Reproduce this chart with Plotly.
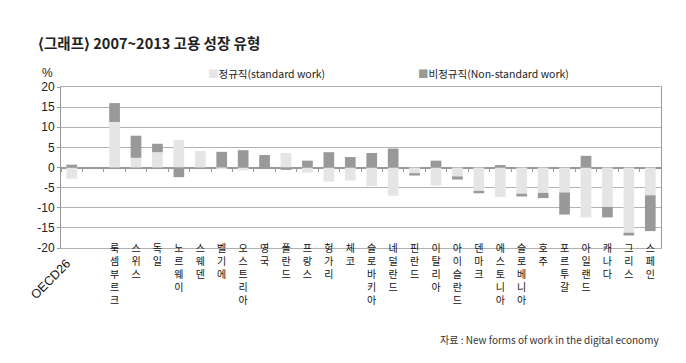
import plotly.graph_objects as go

categories = ["OECD26", " ", "룩셈부르크", "스위스", "독일", "노르웨이", "스웨덴", "벨기에",
              "오스트리아", "영국", "폴란드", "프랑스", "헝가리", "체코", "슬로바키아",
              "네덜란드", "핀란드", "이탈리아", "아이슬란드", "덴마크", "에스토니아",
              "슬로베니아", "호주", "포르투갈", "아일랜드", "캐나다", "그리스", "스페인"]
standard = [-2.8, None, 11.3, 2.4, 3.8, 6.8, 4.1, -0.2, -0.7, 0.0, 3.6, -1.3, -3.5, -3.2,
            -4.6, -7.0, -1.4, -4.5, -2.2, -5.8, -7.3, -6.5, -6.3, -6.2, -12.4, -9.8, -16.2, -6.9]
nonstandard = [0.7, None, 4.7, 5.5, 2.1, -2.4, 0.0, 3.9, 4.3, 3.1, -0.6, 1.7, 3.8, 2.6,
               3.6, 4.7, -0.6, 1.7, -0.8, -0.6, 0.6, -0.7, -1.3, -5.5, 2.9, -2.6, -0.7, -8.9]
y_ticks = [20, 15, 10, 5, 0, -5, -10, -15, -20]

LIGHT = "#e5e5e5"
DARK = "#999999"

def vert(label):
    if label == "OECD26":
        return ""
    return "<br>".join(list(label))

n = len(categories)
fig = go.Figure()
fig.add_trace(go.Bar(x=categories, y=standard, name="정규직(standard work)",
                     marker=dict(color=LIGHT, line=dict(width=0)), width=0.5))
fig.add_trace(go.Bar(x=categories, y=nonstandard, name="비정규직(Non-standard work)",
                     marker=dict(color=DARK, line=dict(width=0)), width=0.5))

fig.update_layout(
    barmode="relative",
    width=686, height=363,
    margin=dict(l=61, r=25, t=87, b=115),
    paper_bgcolor="white", plot_bgcolor="white",
    showlegend=False,
    font=dict(family="Liberation Sans, Arial, sans-serif", color="#222222", size=12),
    xaxis=dict(
        type="category", automargin=False, range=[-0.5, n - 0.5],
        tickmode="array", tickvals=categories, ticktext=[vert(c) for c in categories],
        tickfont=dict(family="Noto Sans CJK KR", size=10, color="#111111"),
        tickangle=0, ticklabelstandoff=-9,
        ticks="", showline=True, linecolor="#b0b0b0", linewidth=1, mirror=True,
        showgrid=False, zeroline=False,
    ),
    xaxis2=dict(
        type="category", overlaying="x", matches="x", anchor="free", position=0.5,
        side="bottom", showticklabels=False, ticks="outside", ticklen=3, tickwidth=1,
        tickcolor="#999999", tickson="boundaries", showline=False, showgrid=False,
        zeroline=False, automargin=False,
    ),
    yaxis=dict(
        range=[-20, 20], tickvals=y_ticks, ticktext=[str(v) for v in y_ticks],
        automargin=False,
        ticks="outside", ticklen=3, tickcolor="#999999",
        showline=True, linecolor="#999999", linewidth=1, mirror=True,
        showgrid=True, gridcolor="#b3b3b3", gridwidth=1,
        zeroline=True, zerolinecolor="#999999", zerolinewidth=2,
        tickfont=dict(size=12, color="#222222"),
    ),
)

# invisible trace that places the category ticks on the zero line
fig.add_trace(go.Scatter(x=categories, y=[0] * n, xaxis="x2", mode="none",
                         hoverinfo="skip", showlegend=False))

W, H = 686, 363
pl, pr, pt, pb = 61, 25, 87, 115
def px(x):
    return (x - pl) / (W - pl - pr)
def py(y):
    return (H - pb - y) / (H - pt - pb)

fig.add_annotation(x="OECD26", y=py(254), xref="x", yref="paper", text="OECD26",
                   textangle=-45, showarrow=False, xanchor="right", yanchor="top",
                   xshift=5, font=dict(family="Liberation Sans, Arial", size=12.5, color="#111111"))

fig.add_annotation(x=px(36), y=py(42), xref="paper", yref="paper",
                   text="⟨그래프⟩ 2007~2013 고용 성장 유형", showarrow=False,
                   xanchor="left", yanchor="middle",
                   font=dict(family="Noto Sans CJK KR", size=14.5, color="#222222", weight=700))
fig.add_annotation(x=px(47), y=py(73), xref="paper", yref="paper", text="%",
                   showarrow=False, xanchor="center", yanchor="middle",
                   font=dict(family="Liberation Sans, Arial", size=12, color="#222222"))
fig.add_annotation(x=px(206), y=py(73), xref="paper", yref="paper",
                   text=f"<span style='color:{LIGHT}'>■</span>정규직(standard work)",
                   showarrow=False, xanchor="left", yanchor="middle",
                   font=dict(family="Noto Sans CJK KR", size=10.5, color="#222222"))
fig.add_annotation(x=px(416), y=py(73), xref="paper", yref="paper",
                   text=f"<span style='color:{DARK}'>■</span>비정규직(Non-standard work)",
                   showarrow=False, xanchor="left", yanchor="middle",
                   font=dict(family="Noto Sans CJK KR", size=10.5, color="#222222"))
fig.add_annotation(x=px(661), y=py(339), xref="paper", yref="paper",
                   text="자료 : New forms of work in the digital economy",
                   showarrow=False, xanchor="right", yanchor="middle",
                   font=dict(family="Noto Sans CJK KR", size=10, color="#333333"))

fig.write_html("out.html", config={"displayModeBar": False},
               post_script="document.body.style.margin='0';")
